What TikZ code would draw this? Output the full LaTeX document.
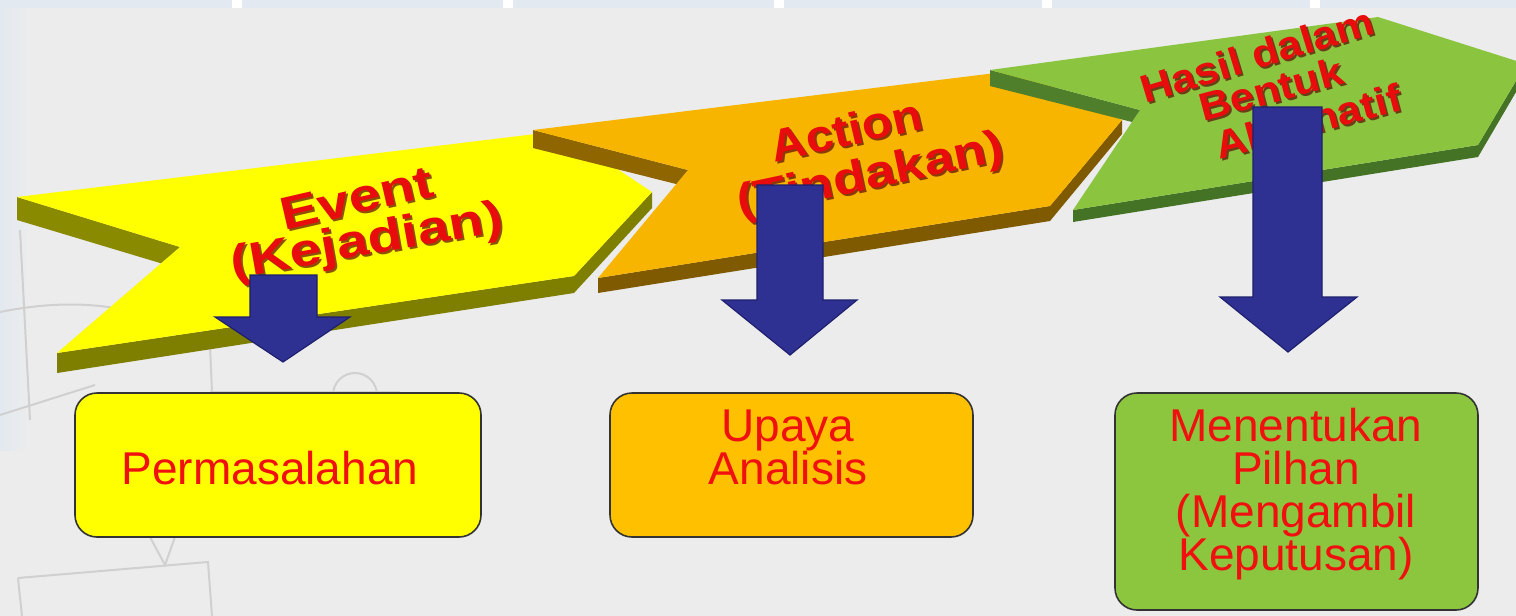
\documentclass[tikz,border=0pt]{standalone}
\usepackage{fontspec}
\setmainfont{Liberation Sans}
\usepackage{graphicx}
\usetikzlibrary{calc}
\definecolor{bgc}{HTML}{ECECEC}
\definecolor{stripc}{HTML}{E3E9F0}
\definecolor{sketchc}{HTML}{D0D0D0}
\definecolor{ytop}{HTML}{FFFF00}
\definecolor{yside}{HTML}{8A8A00}
\definecolor{yfront}{HTML}{7E7E00}
\definecolor{otop}{HTML}{F8B500}
\definecolor{oside}{HTML}{8F6500}
\definecolor{ofront}{HTML}{7F5A00}
\definecolor{gtop}{HTML}{8BC53F}
\definecolor{gside}{HTML}{4F7F2B}
\definecolor{gfront}{HTML}{457326}
\definecolor{arrowblue}{HTML}{2E3192}
\definecolor{arrowdark}{HTML}{1E206E}
\definecolor{boxyellow}{HTML}{FFFF00}
\definecolor{boxorange}{HTML}{FFC000}
\definecolor{boxgreen}{HTML}{8CC63F}
\definecolor{boxred}{HTML}{F01010}
\definecolor{chred}{HTML}{E80C0C}
\definecolor{chshadow}{HTML}{5A0808}
\newcommand\wa[2]{\scalebox{#1}[1]{#2}}
\newcommand\chevline[5]{% angle, x, y, size, text (scaled)
  \node[chevsh, rotate=#1, font=\bfseries\fontsize{#4}{#4}\selectfont] at (#2+2,#3+2) {#5};
  \node[chevtxt, rotate=#1, font=\bfseries\fontsize{#4}{#4}\selectfont] at (#2,#3) {#5};}
\tikzset{
  boxn/.style={draw=black!80, line width=0.8pt, rounded corners=11pt},
  boxtxt/.style={text=boxred, font=\fontsize{23}{21.5}\selectfont, align=center, inner sep=0pt},
  chevtxt/.style={text=chred, inner sep=0pt},
  chevsh/.style={text=chshadow, opacity=0.7, inner sep=0pt},
  blockarrow/.style={fill=arrowblue, draw=arrowdark, line width=0.6pt, line join=miter},
  sketch/.style={draw=sketchc, line width=1pt},
}
\begin{document}
\begin{tikzpicture}[x=0.5pt,y=-0.5pt]
\useasboundingbox (0,0) rectangle (1516,616);
\clip (0,0) rectangle (1516,616);
% background
\fill[bgc] (0,0) rectangle (1516,616);
\shade[left color=stripc, right color=bgc] (0,8) rectangle (30,450);
\fill[stripc] (0,0) rectangle (1516,8);
\foreach \gx in {232,503,774,1042,1310}{\fill[white] (\gx,0) rectangle (\gx+10,8);}
% faint background sketch
\draw[sketch] (0,312) .. controls (60,300) and (120,300) .. (190,330);
\draw[sketch] (20,230) -- (30,420);
\draw[sketch] (355,395) circle[radius=22];
\draw[sketch] (210,345) -- (212,392);
\draw[sketch] (210,392) -- (400,392);
\draw[sketch] (0,415) -- (95,385);
\draw[sketch] (150,537) -- (165,565) -- (175,537);
\draw[sketch] (18,578) -- (208,562) -- (212,616);
\draw[sketch] (18,578) -- (22,616);
% ---------- yellow chevron
\coordinate (yA) at (17,197);
\coordinate (yB) at (560,131);
\coordinate (yC) at (652,192);
\coordinate (yD) at (574,276);
\coordinate (yE) at (57,353);
\coordinate (yF) at (180,247);
\fill[yside] (yA) -- (yF) -- ($(yF)+(0,22)$) -- ($(yA)+(0,23)$) -- cycle;
\fill[yfront] (yE) -- (yD) -- ($(yD)+(0,17)$) -- ($(yE)+(0,20)$) -- cycle;
\fill[yfront] (yD) -- (yC) -- ($(yC)+(0,16)$) -- ($(yD)+(0,17)$) -- cycle;
\fill[ytop] (yA) -- (yB) -- (yC) -- (yD) -- (yE) -- (yF) -- cycle;
\chevline{13}{357}{198}{23}{\wa{1.24}{Event}}
\chevline{10}{367}{243}{23}{\wa{1.24}{(Kejadian)}}
% ---------- orange chevron
\coordinate (oA) at (533,130);
\coordinate (oB) at (1020,70);
\coordinate (oC) at (1122,120);
\coordinate (oD) at (1050,206);
\coordinate (oE) at (598,278);
\coordinate (oF) at (688,170);
\fill[oside] (oA) -- (oF) -- ($(oF)+(0,17)$) -- ($(oA)+(0,18)$) -- cycle;
\fill[ofront] (oE) -- (oD) -- ($(oD)+(0,15)$) -- ($(oE)+(0,15)$) -- cycle;
\fill[ofront] (oD) -- (oC) -- ($(oC)+(0,14)$) -- ($(oD)+(0,15)$) -- cycle;
\fill[otop] (oA) -- (oB) -- (oC) -- (oD) -- (oE) -- (oF) -- cycle;
\chevline{13}{846}{130}{22.5}{\wa{1.1}{Action}}
\chevline{12}{871}{177}{22.5}{\wa{1.2}{(Tindakan)}}
% ---------- green chevron
\coordinate (gA) at (990,70);
\coordinate (gB) at (1378,17);
\coordinate (gC) at (1526,64);
\coordinate (gD) at (1478,145);
\coordinate (gE) at (1073,210);
\coordinate (gF) at (1140,110);
\fill[gside] (gA) -- (gF) -- ($(gF)+(0,14)$) -- ($(gA)+(0,16)$) -- cycle;
\fill[gfront] (gE) -- (gD) -- ($(gD)+(0,12)$) -- ($(gE)+(0,12)$) -- cycle;
\fill[gfront] (gD) -- (gC) -- ($(gC)+(0,11)$) -- ($(gD)+(0,12)$) -- cycle;
\fill[gtop] (gA) -- (gB) -- (gC) -- (gD) -- (gE) -- (gF) -- cycle;
\chevline{17}{1257}{55}{19.5}{\wa{1.12}{Hasil dalam}}
\chevline{15}{1271}{89}{19.5}{\wa{1.12}{Bentuk}}
\chevline{15}{1308}{121}{19.5}{\wa{1.12}{Alternatif}}
% ---------- blue arrows
\draw[blockarrow] (250,275) -- (317,275) -- (317,317) -- (350,317) -- (283,362) -- (215,317) -- (250,317) -- cycle;
\draw[blockarrow] (757,185) -- (823,185) -- (823,300) -- (857,300) -- (790,355) -- (722,300) -- (757,300) -- cycle;
\draw[blockarrow] (1253,107) -- (1322,107) -- (1322,297) -- (1357,297) -- (1288,352) -- (1220,297) -- (1253,297) -- cycle;
% ---------- boxes
\node[boxn, fill=boxyellow, minimum width=203pt, minimum height=72pt] (b1) at (278,465) {};
\node[boxtxt] (t1) at (270,468) {Permasalahan};
\node[boxn, fill=boxorange, minimum width=181.5pt, minimum height=72pt] (b2) at (791.5,465) {};
\node[boxtxt] (t2) at (788,447) {Upaya\\Analisis};
\node[boxn, fill=boxgreen, minimum width=181.5pt, minimum height=108.5pt] (b3) at (1296.5,501.5) {};
\node[boxtxt] (t3) at (1296,494) {Menentukan\\Pilhan\\(Mengambil\\Keputusan)};
\end{tikzpicture}
\end{document}
